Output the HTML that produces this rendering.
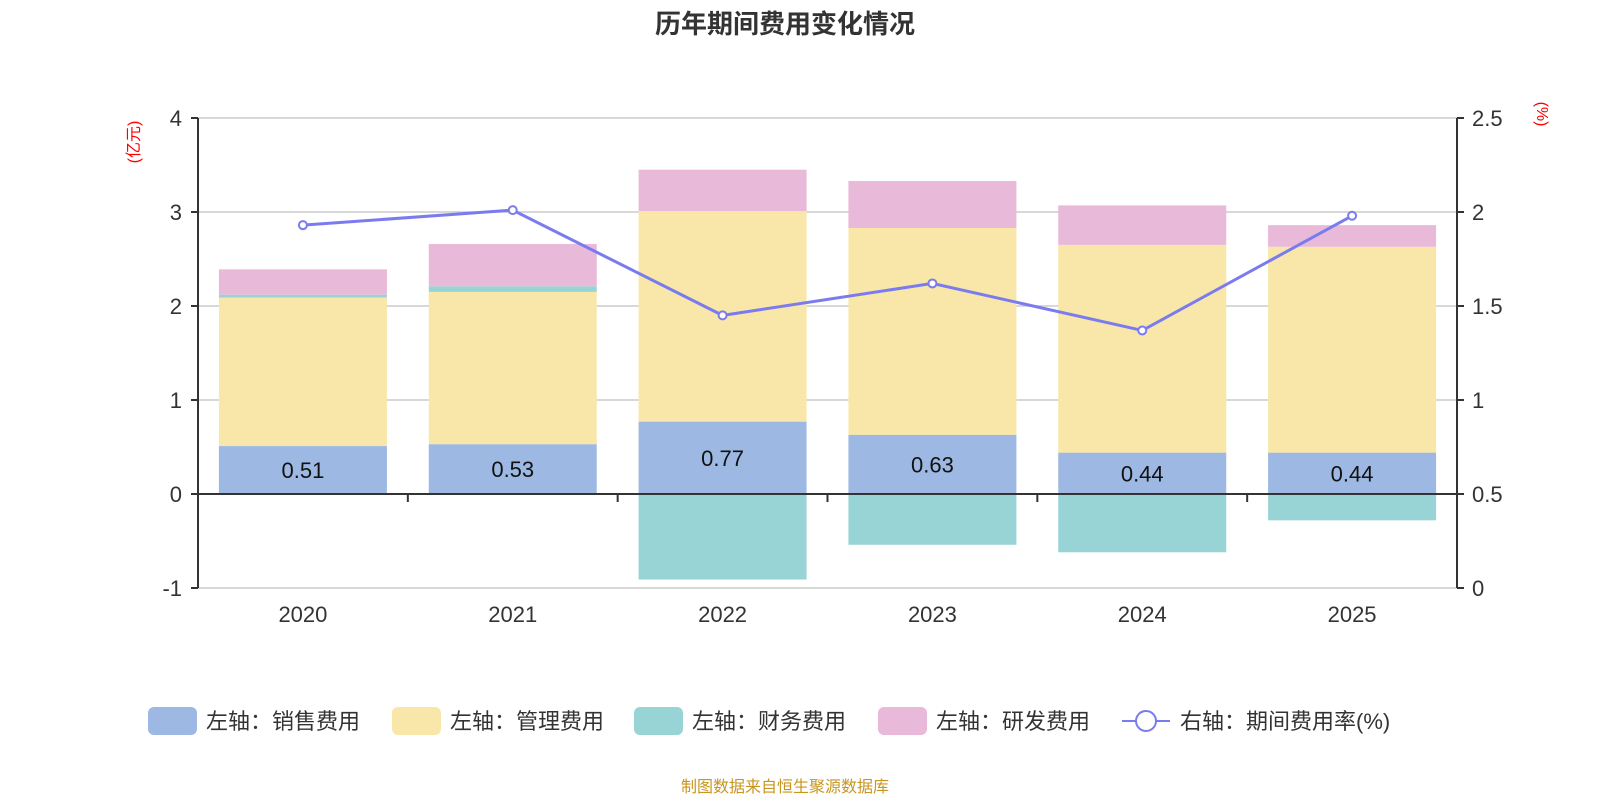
<!DOCTYPE html>
<html><head><meta charset="utf-8"><style>
body{margin:0;background:#fff;font-family:"Liberation Sans","Noto Sans CJK SC",sans-serif;}
svg text{font-family:"Liberation Sans","Noto Sans CJK SC",sans-serif;}
</style></head><body>
<svg id="c" width="1600" height="800">
<text x="785" y="33" text-anchor="middle" font-size="26" font-weight="bold" fill="#333">历年期间费用变化情况</text>
<text transform="translate(139,142) rotate(-90)" text-anchor="middle" font-size="16" fill="#f00">(亿元)</text>
<text transform="translate(1537,114) rotate(90)" text-anchor="middle" font-size="16" fill="#f00">(%)</text>
<g id="grid"></g><g id="bars"></g><g id="axes"></g><g id="line"></g><g id="legend"></g>
<text x="785" y="792" text-anchor="middle" font-size="16" fill="#c8961e">制图数据来自恒生聚源数据库</text>
</svg>
<script>
const categories=["2020","2021","2022","2023","2024","2025"];
const sales=[0.51,0.53,0.77,0.63,0.44,0.44];
const mgmt=[1.58,1.62,2.24,2.20,2.21,2.19];
const finance=[0.03,0.06,-0.91,-0.54,-0.62,-0.28];
const rnd=[0.27,0.45,0.44,0.50,0.42,0.23];
const rate=[1.93,2.01,1.45,1.62,1.37,1.98];
const leftTicks=[-1,0,1,2,3,4];
const rightTicks=["0","0.5","1","1.5","2","2.5"];
const NS="http://www.w3.org/2000/svg";
const X0=198,X1=1457,bw=(X1-X0)/categories.length;
const yL=v=>494-v*94, yR=v=>588-v*188, xc=i=>X0+bw*(i+0.5);
function mk(t,a,p){const e=document.createElementNS(NS,t);for(const k in a)e.setAttribute(k,a[k]);(p||document.getElementById('c')).appendChild(e);return e;}
const grid=document.getElementById('grid'),axes=document.getElementById('axes'),bars=document.getElementById('bars'),line=document.getElementById('line'),leg=document.getElementById('legend');
leftTicks.forEach((v,i)=>{
 if(v!==0){const g=mk('line',{x1:X0,x2:X1,y1:yL(v),y2:yL(v),stroke:'#ccc','stroke-width':1.5},grid);}
 const t=mk('text',{x:182,y:yL(v)+8,'text-anchor':'end','font-size':22,fill:'#333'},axes);t.textContent=v;
 
 mk('line',{x1:X0-7,x2:X0,y1:yL(v),y2:yL(v),stroke:'#333','stroke-width':2},axes);
 const r=mk('text',{x:1472,y:yR(i*0.5)+8,'font-size':22,fill:'#333'},axes);r.textContent=rightTicks[i];
 
 mk('line',{x1:X1,x2:X1+7,y1:yR(i*0.5),y2:yR(i*0.5),stroke:'#333','stroke-width':2},axes);
});
mk('line',{x1:X0,x2:X0,y1:118,y2:588,stroke:'#333','stroke-width':2},axes);
mk('line',{x1:X1,x2:X1,y1:118,y2:588,stroke:'#333','stroke-width':2},axes);
mk('line',{x1:X0,x2:X1,y1:494,y2:494,stroke:'#333','stroke-width':2},axes);
for(let i=0;i<=categories.length;i++)mk('line',{x1:X0+bw*i,x2:X0+bw*i,y1:494,y2:502,stroke:'#333','stroke-width':2},axes);
const w=168;
categories.forEach((c,i)=>{
 const x=xc(i)-w/2;
 const t=mk('text',{x:xc(i),y:622,'text-anchor':'middle','font-size':22,fill:'#333'},axes);t.textContent=c;
 
 let pos=0,neg=0;
 const seg=(v,col,name)=>{let a,b;if(v>=0){a=pos;b=pos+v;pos=b;}else{a=neg;b=neg+v;neg=b;}
  const r=mk('rect',{x:x,y:yL(Math.max(a,b)),width:w,height:Math.abs(yL(a)-yL(b)),fill:col},bars);
  };
 seg(sales[i],'#9db8e2','sales');seg(mgmt[i],'#f8e7a8','mgmt');seg(finance[i],'#98d4d6','finance');seg(rnd[i],'#e8b9d8','rnd');
 const l=mk('text',{x:xc(i),y:(yL(0)+yL(sales[i]))/2+8,'text-anchor':'middle','font-size':22,fill:'#111'},bars);l.textContent=sales[i].toFixed(2);
 
});
const pl=mk('polyline',{points:rate.map((v,i)=>xc(i)+','+yR(v)).join(' '),fill:'none',stroke:'#7b7bf0','stroke-width':3},line);

rate.forEach((v,i)=>{const p=mk('circle',{cx:xc(i),cy:yR(v),r:4,fill:'#fff',stroke:'#7b7bf0','stroke-width':2},line);
 });
const items=[["左轴：销售费用","#9db8e2",148],["左轴：管理费用","#f8e7a8",392],["左轴：财务费用","#98d4d6",634],["左轴：研发费用","#e8b9d8",878]];
items.forEach(it=>{const r=mk('rect',{x:it[2],y:707,width:49,height:28,rx:6,fill:it[1]},leg);
 
 const t=mk('text',{x:it[2]+58,y:729,'font-size':22,fill:'#333'},leg);t.textContent=it[0];
 });
mk('line',{x1:1122,x2:1170,y1:721,y2:721,stroke:'#7b7bf0','stroke-width':2},leg);
mk('circle',{cx:1146,cy:721,r:10,fill:'#fff',stroke:'#7b7bf0','stroke-width':2},leg);
const lt=mk('text',{x:1180,y:729,'font-size':22,fill:'#333'},leg);lt.textContent="右轴：期间费用率(%)";

</script>
</body></html>
